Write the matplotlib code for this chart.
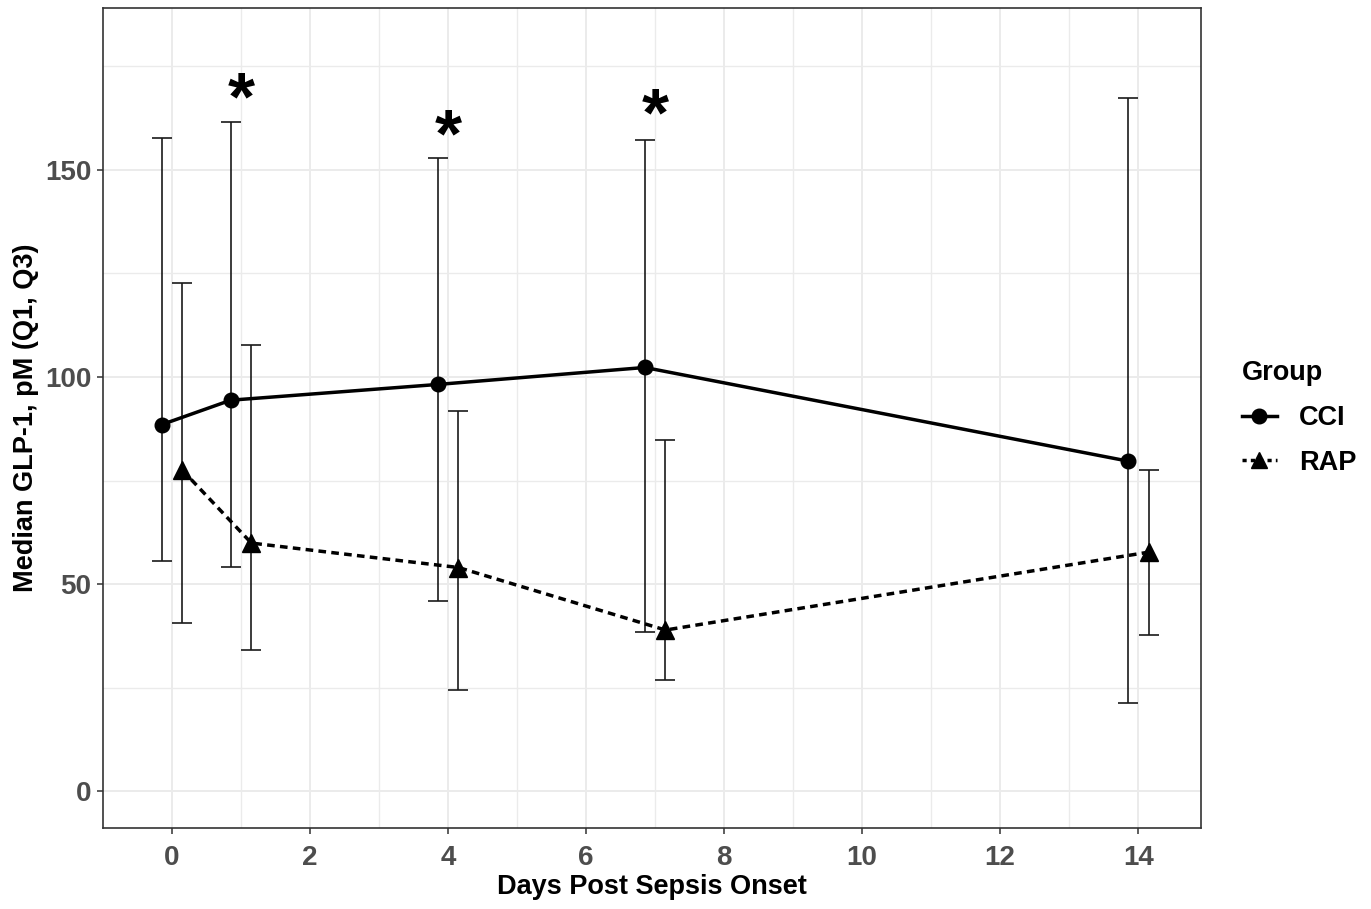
import numpy as np
import matplotlib
matplotlib.use("Agg")
import matplotlib.pyplot as plt
from matplotlib.lines import Line2D
from matplotlib.transforms import offset_copy

plt.rcParams['font.family'] = ['Liberation Sans', 'DejaVu Sans']
plt.rcParams['lines.scale_dashes'] = False

days = [0, 1, 4, 7, 14]
groups = ["CCI", "RAP"]
dodge = [-0.15, 0.15]

cci_med = [88.5, 94.4, 98.2, 102.3, 79.7]
cci_q1 = [55.6, 54.2, 46.0, 38.4, 21.3]
cci_q3 = [157.7, 161.6, 152.9, 157.2, 167.4]

rap_med = [77.5, 59.9, 54.0, 38.9, 57.7]
rap_q1 = [40.6, 34.2, 24.4, 26.8, 37.7]
rap_q3 = [122.7, 107.7, 91.8, 84.8, 77.5]

star_days = [1, 4, 7]
star_y = [172.0, 163.0, 168.0]

fig = plt.figure(figsize=(13.71, 9.09), dpi=100)
ax = fig.add_axes([103 / 1371, 81 / 909, 1098 / 1371, 820 / 909])

meds = [cci_med, rap_med]
q1s = [cci_q1, rap_q1]
q3s = [cci_q3, rap_q3]
markers = ['o', '^']
msizes = [10.5, 12.5]
styles = ['-', (0, (5.5, 3.8))]

for i, g in enumerate(groups):
    x = np.array(days) + dodge[i]
    med = np.array(meds[i])
    lo = med - np.array(q1s[i])
    hi = np.array(q3s[i]) - med
    ax.errorbar(x, med, yerr=[lo, hi], fmt='none', ecolor='#1a1a1a',
                elinewidth=1.2, capsize=7.5, capthick=1.2, zorder=3)
    ax.plot(x, med, color='black', lw=2.5, linestyle=styles[i], zorder=4)
    ax.plot(x, med, color='black', lw=0, marker=markers[i],
            markersize=msizes[i], zorder=5)

# asterisk glyph centre sits ~0.58 em above the baseline
star_tr = offset_copy(ax.transData, fig=fig, y=-0.58 * 50, units='points')
for d, y in zip(star_days, star_y):
    ax.text(d, y, "*", fontsize=50, fontweight='bold', ha='center',
            va='baseline', color='black', zorder=6, transform=star_tr)

ax.set_xlim(-1.0, 14.91)
ax.set_ylim(-8.9, 189.1)
ax.set_xticks(range(0, 15, 2))
ax.set_yticks([0, 50, 100, 150])
ax.set_xticks(range(1, 15, 2), minor=True)
ax.set_yticks([25, 75, 125, 175], minor=True)
ax.grid(which='major', color='#ebebeb', lw=1.4, zorder=0)
ax.grid(which='minor', color='#ebebeb', lw=1.0, zorder=0)
ax.set_axisbelow(True)
ax.tick_params(which='minor', length=0)
ax.tick_params(which='major', length=4.5, width=1.1, color='#333333',
               labelsize=20, labelcolor='#4d4d4d', pad=4)
ax.tick_params(axis='x', which='major', pad=8)
for lab in ax.get_xticklabels() + ax.get_yticklabels():
    lab.set_fontweight('bold')
for s in ax.spines.values():
    s.set_color('#333333')
    s.set_linewidth(1.2)

ax.set_xlabel("Days Post Sepsis Onset", fontsize=19.5, fontweight='bold', labelpad=2)
ax.set_ylabel("Median GLP-1, pM (Q1, Q3)", fontsize=19.5, fontweight='bold', labelpad=4)

handles = [
    Line2D([], [], color='black', lw=2.5, marker='o', markersize=10.5),
    Line2D([], [], color='black', lw=2.5, linestyle=(0, (3, 3)), marker='^', markersize=12),
]
leg = ax.legend(handles, groups, title="Group", loc='center left',
                bbox_to_anchor=(1.015, 0.5), frameon=False, fontsize=19.5,
                title_fontproperties={'weight': 'bold', 'size': 19.5},
                handlelength=1.3, handletextpad=0.8, labelspacing=0.7)
leg._legend_box.align = 'left'
for t in leg.get_texts():
    t.set_fontweight('bold')

fig.savefig("out.png", dpi=100)
